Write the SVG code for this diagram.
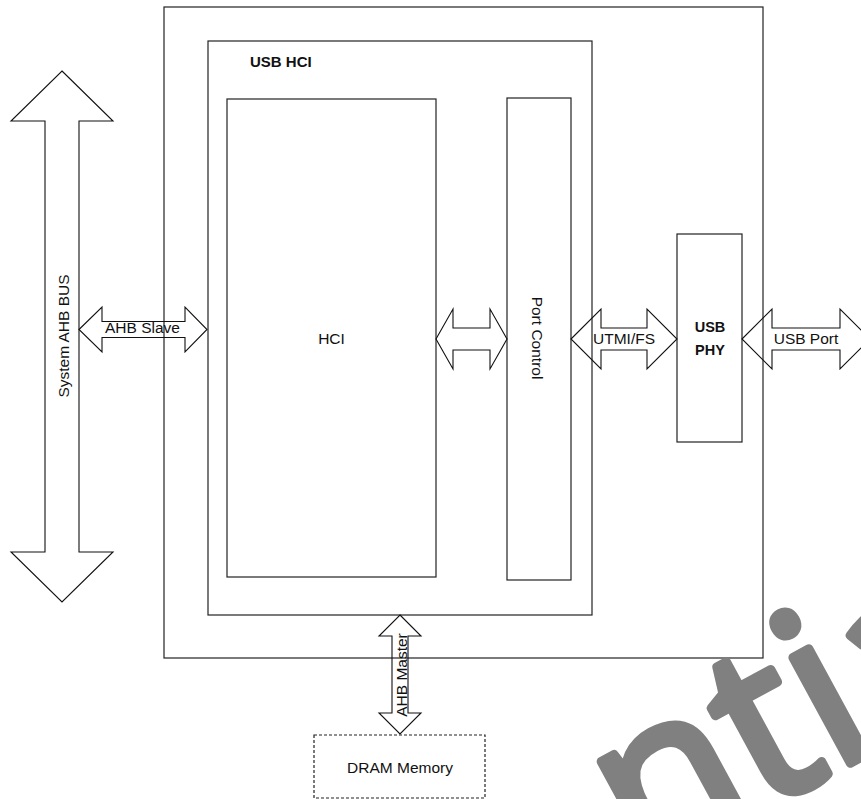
<svg xmlns="http://www.w3.org/2000/svg" width="861" height="799" viewBox="0 0 861 799">
<style>
.box{fill:none;stroke:#222;stroke-width:1.2}
.arr{fill:none;stroke:#111;stroke-width:1.1;stroke-linejoin:miter}
.t{font-family:"Liberation Sans",Arial,sans-serif;font-size:15.5px;fill:#111}
.b{font-weight:bold;font-size:14.5px}
.m{text-anchor:middle}
.wm{font-family:"Open Sans","Liberation Sans",sans-serif;font-size:225px;fill:#808080;stroke:#808080;stroke-width:9;stroke-linejoin:round}
</style>
<defs>
<clipPath id="wmclip"><rect x="-250" y="-320" width="700" height="450"/></clipPath>
</defs>
<rect x="0" y="0" width="861" height="799" fill="#fff"/>
<g id="soc"><rect class="box" x="164" y="7" width="599" height="651" stroke="#444"/></g>
<g id="usb-hci"><rect class="box" x="208" y="41" width="384" height="574"/><text class="t b" x="250" y="67" style="font-size:15px">USB HCI</text></g>
<g id="hci"><rect class="box" x="227" y="99" width="209" height="478"/><text class="t m" x="331.5" y="344">HCI</text></g>
<g id="port-control"><rect class="box" x="507" y="98" width="64" height="482"/><text class="t m" transform="translate(531.5,338) rotate(90)">Port Control</text></g>
<g id="usb-phy"><rect class="box" x="677" y="234" width="65" height="208"/><text class="t b m" x="710" y="332">USB</text><text class="t b m" x="710" y="355">PHY</text></g>
<g id="dram"><rect class="box" x="314" y="735" width="171" height="63" stroke-dasharray="3,2" stroke-width="1"/><text class="t m" x="400" y="773">DRAM Memory</text></g>
<g id="connectors">
<g id="system-ahb-bus"><polygon class="arr" points="62,71 113,121 79,121 79,552 113,552 62,602 11,552 45,552 45,121 11,121"/><text class="t m" transform="translate(68.5,336) rotate(-90)">System AHB BUS</text></g>
<g id="ahb-slave"><polygon class="arr" points="79,329.5 102,307 102,321.5 185,321.5 185,307 207,329.5 185,352 185,337.5 102,337.5 102,352"/><text class="t m" x="142.5" y="333">AHB Slave</text></g>
<g id="hci-port"><polygon class="arr" points="436,339 453,309 453,328 490,328 490,309 507,339 490,369 490,350 453,350 453,369"/></g>
<g id="utmi"><polygon class="arr" points="571,339 601,309 601,328 647,328 647,309 677,339 647,369 647,350 601,350 601,369"/><text class="t m" x="624" y="344">UTMI/FS</text></g>
<g id="usb-port"><polygon class="arr" points="742,339 772,309 772,328 840,328 840,309 870,339 840,369 840,350 772,350 772,369"/><text class="t m" x="806" y="344">USB Port</text></g>
<g id="ahb-master"><polygon class="arr" points="400,615 421,636 408,636 408,713 421,713 400,734 379,713 392,713 392,636 379,636"/><text class="t m" transform="translate(406.5,675) rotate(-90)">AHB Master</text></g>
</g>
<g id="watermark" transform="translate(860,758) rotate(-28.5)"><text class="wm" x="-1060" y="0" clip-path="url(#wmclip)">Confidential</text></g>
</svg>
